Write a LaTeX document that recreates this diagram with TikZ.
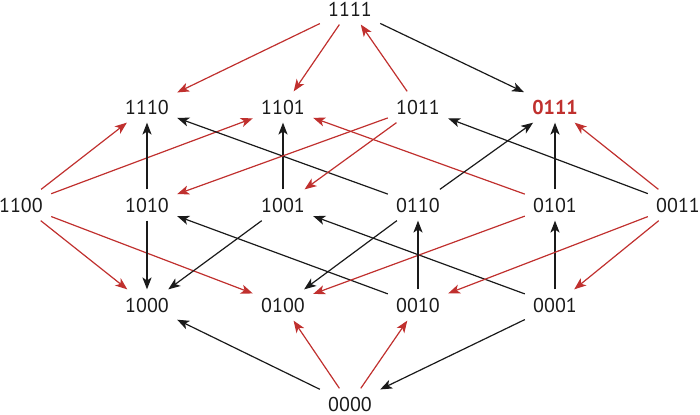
\documentclass[tikz,border=0pt]{standalone}
\usepackage{fontspec}
\setmainfont{PT Sans}
\usepackage{tikz}
\usetikzlibrary{arrows.meta}
\definecolor{Ink}{HTML}{1A1A1A}
\definecolor{Flip}{HTML}{C0302E}
\tikzset{
  state/.style={inner sep=4pt,text=Ink,font=\fontsize{10}{12}\selectfont},
  link/.style={-{Stealth[length=6pt,width=4.6pt,inset=1.6pt]},line width=0.6pt,draw=Ink},
  redLink/.style={link,draw=Flip,-{Stealth[length=6pt,width=4.6pt,inset=1.6pt,fill=Flip]}}
}
\begin{document}
\begin{tikzpicture}[x=0.5pt,y=-0.5pt]
  \useasboundingbox (0,0) rectangle (700,414);
  % levels of the lattice
  \node[state] (n1111) at (350,9) {1111};
  \node[state] (n1110) at (147,107) {1110};
  \node[state] (n1101) at (283,107) {1101};
  \node[state] (n1011) at (418,107) {1011};
  \node[state,text=Flip,font=\fontsize{10}{12}\selectfont\bfseries] (n0111) at (555,107) {0111};
  \node[state] (n1100) at (21,205) {1100};
  \node[state] (n1010) at (147,205) {1010};
  \node[state] (n1001) at (283,205) {1001};
  \node[state] (n0110) at (418,205) {0110};
  \node[state] (n0101) at (555,205) {0101};
  \node[state] (n0011) at (678,205) {0011};
  \node[state] (n1000) at (147,305) {1000};
  \node[state] (n0100) at (283,305) {0100};
  \node[state] (n0010) at (418,305) {0010};
  \node[state] (n0001) at (555,305) {0001};
  \node[state] (n0000) at (350,404) {0000};
  % top
  \draw[redLink] (n1111)--(n1110);
  \draw[redLink] (n1111)--(n1101);
  \draw[redLink] (n1011)--(n1111);
  \draw[link] (n1111)--(n0111);
  % second level up
  \draw[redLink] (n1100)--(n1110);
  \draw[redLink] (n1100)--(n1101);
  \draw[link] (n1010)--(n1110);
  \draw[link] (n0110)--(n1110);
  \draw[link] (n1001)--(n1101);
  \draw[redLink] (n0101)--(n1101);
  \draw[redLink] (n1011)--(n1010);
  \draw[redLink] (n1011)--(n1001);
  \draw[link] (n0011)--(n1011);
  \draw[link] (n0110)--(n0111);
  \draw[link] (n0101)--(n0111);
  \draw[redLink] (n0011)--(n0111);
  % first level
  \draw[redLink] (n1100)--(n1000);
  \draw[redLink] (n1100)--(n0100);
  \draw[link] (n1010)--(n1000);
  \draw[link] (n1001)--(n1000);
  \draw[link] (n0010)--(n1010);
  \draw[link] (n0001)--(n1001);
  \draw[link] (n0110)--(n0100);
  \draw[redLink] (n0101)--(n0100);
  \draw[link] (n0010)--(n0110);
  \draw[link] (n0001)--(n0101);
  \draw[redLink] (n0011)--(n0010);
  \draw[redLink] (n0011)--(n0001);
  % bottom
  \draw[link] (n0000)--(n1000);
  \draw[redLink] (n0000)--(n0100);
  \draw[redLink] (n0000)--(n0010);
  \draw[link] (n0001)--(n0000);
\end{tikzpicture}
\end{document}
